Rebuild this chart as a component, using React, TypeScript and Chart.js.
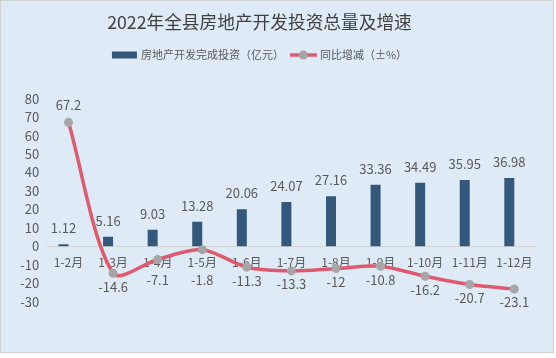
import React, { useEffect, useRef } from "react";
import { Chart, registerables } from "chart.js";

Chart.register(...registerables);

const TITLE = "2022年全县房地产开发投资总量及增速";
const categories = ["1-2月", "1-3月", "1-4月", "1-5月", "1-6月", "1-7月", "1-8月", "1-9月", "1-10月", "1-11月", "1-12月"];
const investment = [1.12, 5.16, 9.03, 13.28, 20.06, 24.07, 27.16, 33.36, 34.49, 35.95, 36.98];
const yoyChange = [67.2, -14.6, -7.1, -1.8, -11.3, -13.3, -12, -10.8, -16.2, -20.7, -23.1];
const investmentLabel = "房地产开发完成投资（亿元）";
const changeLabel = "同比增减（±%）";
const yMin = -30;
const yMax = 80;
const yStep = 10;

const FONT = '"Noto Sans CJK SC", "Microsoft YaHei", "Noto Sans", sans-serif';
const BAR_COLOR = "#34587b";
const LINE_COLOR = "#e05a6f";
const POINT_COLOR = "#a6a6a6";
const TEXT_COLOR = "#595959";

const overlayPlugin = {
  id: "overlay",
  afterDatasetsDraw(chart: any) {
    const ctx = chart.ctx;
    ctx.save();
    const zeroY = chart.scales.y.getPixelForValue(0);
    // bar value labels
    ctx.font = `13px ${FONT}`;
    ctx.fillStyle = TEXT_COLOR;
    ctx.textAlign = "center";
    ctx.textBaseline = "middle";
    const barMeta = chart.getDatasetMeta(1);
    barMeta.data.forEach((el: any, i: number) => {
      ctx.fillText(String(investment[i]), el.x, el.y - 16);
    });
    // line value labels
    const lineMeta = chart.getDatasetMeta(0);
    lineMeta.data.forEach((el: any, i: number) => {
      const y = yoyChange[i] > 0 ? el.y - 17 : Math.max(el.y + 13.5, zeroY + 34);
      ctx.fillText(String(yoyChange[i]), el.x, y);
    });
    // title
    ctx.font = `17.7px ${FONT}`;
    ctx.fillStyle = "#404040";
    ctx.fillText(TITLE, 258.5, 21);
    // legend
    ctx.font = `11px ${FONT}`;
    const w1 = ctx.measureText(investmentLabel).width;
    const w2 = ctx.measureText(changeLabel).width;
    const total = 25 + 4 + w1 + 6 + 27 + 3 + w2;
    let x = 258.5 - total / 2;
    const ly = 54;
    ctx.fillStyle = BAR_COLOR;
    ctx.fillRect(x, ly - 3.5, 25, 7);
    ctx.fillStyle = TEXT_COLOR;
    ctx.textAlign = "left";
    ctx.fillText(investmentLabel, x + 29, ly);
    x = x + 29 + w1 + 6;
    ctx.strokeStyle = LINE_COLOR;
    ctx.lineWidth = 3.5;
    ctx.beginPath();
    ctx.moveTo(x, ly);
    ctx.lineTo(x + 27, ly);
    ctx.stroke();
    ctx.fillStyle = POINT_COLOR;
    ctx.beginPath();
    ctx.arc(x + 13.5, ly, 4.5, 0, Math.PI * 2);
    ctx.fill();
    ctx.fillStyle = TEXT_COLOR;
    ctx.fillText(changeLabel, x + 30, ly);
    ctx.restore();
  },
};

export default function App() {
  const ref = useRef<HTMLCanvasElement>(null);
  useEffect(() => {
    if (!ref.current) return;
    const chart = new Chart(ref.current, {
      type: "bar",
      data: {
        labels: categories,
        datasets: [
          {
            type: "line",
            label: changeLabel,
            data: yoyChange,
            borderColor: LINE_COLOR,
            backgroundColor: LINE_COLOR,
            borderWidth: 3.5,
            tension: 0.3,
            pointRadius: 4.5,
            pointBackgroundColor: POINT_COLOR,
            pointBorderWidth: 0,
            order: 0,
          } as any,
          {
            type: "bar",
            label: investmentLabel,
            data: investment,
            backgroundColor: BAR_COLOR,
            categoryPercentage: 0.4486,
            barPercentage: 1,
            order: 1,
          },
          {
            type: "bar",
            label: "",
            data: [],
            categoryPercentage: 0.4486,
            barPercentage: 1,
            order: 2,
          },
        ],
      },
      options: {
        responsive: false,
        animation: false,
        layout: { padding: { left: 0, right: 16.4, top: 97.7, bottom: 50.3 } },
        plugins: {
          legend: { display: false },
          title: { display: false },
          tooltip: { enabled: false },
        },
        scales: {
          x: {
            type: "category",
            position: { y: 0 } as any,
            offset: true,
            grid: { display: false, drawTicks: false },
            border: { display: true, color: "#d4d4d4", width: 1 },
            ticks: {
              font: { size: 12, family: FONT },
              color: TEXT_COLOR,
              padding: 9,
              maxRotation: 0,
              autoSkip: false,
            },
          },
          y: {
            min: yMin,
            max: yMax,
            grid: { display: false, drawTicks: false },
            border: { display: false },
            ticks: {
              stepSize: yStep,
              autoSkip: false,
              font: { size: 13, family: FONT },
              color: TEXT_COLOR,
              padding: 7,
            },
            afterFit: (scale: any) => {
              scale.width = 45.2;
            },
          },
        },
      },
      plugins: [overlayPlugin],
    });
    return () => chart.destroy();
  }, []);
  return (
    <div
      style={{
        position: "fixed",
        left: 0,
        top: 0,
        width: 554,
        height: 353,
        boxSizing: "border-box",
        border: "1px solid #d0d0d0",
        background: "#deebf7",
      }}
    >
      <canvas ref={ref} width={552} height={351} style={{ display: "block", width: 552, height: 351 }} />
    </div>
  );
}
